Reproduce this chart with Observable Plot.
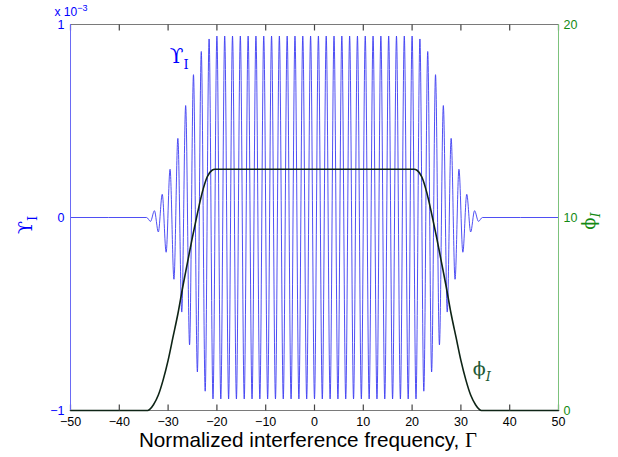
<!DOCTYPE html>
<html>
<head>
<meta charset="utf-8">
<script src="https://cdn.jsdelivr.net/npm/d3@7"></script>
<script src="https://cdn.jsdelivr.net/npm/@observablehq/plot@0.6"></script>
<style>
  html, body { margin: 0; padding: 0; background: #fff; }
  #chart { width: 618px; height: 457px; }
</style>
</head>
<body>
<div id="chart"></div>
<script>
// ---- data ----
// x-axis ticks (normalized interference frequency, Gamma)
const xTicks = [-50, -40, -30, -20, -10, 0, 10, 20, 30, 40, 50];
// left axis ticks (Upsilon_I, in units of 1e-3)
const leftTicks = [-1, 0, 1];
// right axis tick labels (phi_I)
const rightTickLabels = [0, 10, 20];

// Upsilon_I: flat ends plus the extrema of the oscillation (x 1e-3)
const upsX = [
  -50, -34.4,
  -33.6, -32.8, -32.0, -31.2, -30.4, -29.6, -28.8, -28.0, -27.2, -26.4,
  -25.6, -24.8, -24.0, -23.2, -22.4, -21.6, -20.8, -20.0, -19.2, -18.4,
  -17.6, -16.8, -16.0, -15.2, -14.4, -13.6, -12.8, -12.0, -11.2, -10.4,
  -9.6, -8.8, -8.0, -7.2, -6.4, -5.6, -4.8, -4.0, -3.2, -2.4, -1.6, -0.8,
  0,
  0.8, 1.6, 2.4, 3.2, 4.0, 4.8, 5.6, 6.4, 7.2, 8.0, 8.8, 9.6,
  10.4, 11.2, 12.0, 12.8, 13.6, 14.4, 15.2, 16.0, 16.8, 17.6,
  18.4, 19.2, 20.0, 20.8, 21.6, 22.4, 23.2, 24.0, 24.8, 25.6,
  26.4, 27.2, 28.0, 28.8, 29.6, 30.4, 31.2, 32.0, 32.8, 33.6,
  34.4, 50
];
const upsY = [
  0, 0,
  -0.02, 0.035, -0.075, 0.12, -0.18, 0.25, -0.32, 0.41, -0.49, 0.58,
  -0.66, 0.74, -0.80, 0.86, -0.90, 0.925, -0.94, 0.94, -0.94, 0.94,
  -0.94, 0.94, -0.94, 0.94, -0.94, 0.94, -0.94, 0.94, -0.94, 0.94,
  -0.94, 0.94, -0.94, 0.94, -0.94, 0.94, -0.94, 0.94, -0.94, 0.94, -0.94, 0.94,
  -0.94,
  0.94, -0.94, 0.94, -0.94, 0.94, -0.94, 0.94, -0.94, 0.94, -0.94, 0.94, -0.94,
  0.94, -0.94, 0.94, -0.94, 0.94, -0.94, 0.94, -0.94, 0.94, -0.94,
  0.94, -0.94, 0.94, -0.94, 0.925, -0.90, 0.86, -0.80, 0.74, -0.66,
  0.58, -0.49, 0.41, -0.32, 0.25, -0.18, 0.12, -0.075, 0.035, -0.02,
  0, 0
];

// phi_I (right axis, 0..20)
const phiX = [-50, -34.2, -33, -32, -31, -30, -29, -28, -27, -26, -25, -24, -23, -22, -21, -20.4,
              20.4, 21, 22, 23, 24, 25, 26, 27, 28, 29, 30, 31, 32, 33, 34.2, 50];
const phiV = [0, 0, 0.3, 0.8, 1.6, 2.6, 3.8, 5.0, 6.4, 7.7, 9.0, 10.2, 11.3, 12.1, 12.45, 12.5,
              12.5, 12.45, 12.1, 11.3, 10.2, 9.0, 7.7, 6.4, 5.0, 3.8, 2.6, 1.6, 0.8, 0.3, 0, 0];

// ---- build ----
const upsilon = upsX.map((x, i) => ({x, y: upsY[i]}));
const phi = phiX.map((x, i) => ({x, v: phiV[i]}));
const phiToY = v => v / 10 - 1;  // map right axis (0..20) onto left axis (-1..1)

const BLUE = "#0000ff";
const GREEN = "#138a13";
const font = "'Liberation Sans', Arial, Helvetica, sans-serif";
const serif = "'DejaVu Serif', 'Liberation Serif', 'Times New Roman', serif";
const intFmt = d3.format("d");

const W = 618, H = 457, mL = 70, mR = 60, mT = 24, mB = 47;
const innerH = H - mT - mB;
// tick length: 6 px expressed in y units
const tickLen = 6 * (leftTicks[2] - leftTicks[0]) / innerH;

const plot = Plot.plot({
  width: W,
  height: H,
  marginLeft: mL,
  marginRight: mR,
  marginTop: mT,
  marginBottom: mB,
  style: {fontFamily: font, fontSize: "12.5px", background: "white", overflow: "visible"},
  x: {domain: [-50, 50]},
  y: {domain: [-1, 1]},
  marks: [
    // frame (top / bottom)
    Plot.ruleY([-1, 1], {stroke: "#7a7a7a", strokeWidth: 1}),
    // oscillating Upsilon_I
    Plot.line(upsilon, {x: "x", y: "y", curve: "monotone-x", stroke: "#3b3bf2", strokeWidth: 0.9}),
    // phi_I
    Plot.line(phi, {x: "x", y: d => phiToY(d.v), curve: "monotone-x", stroke: "#0e2416", strokeWidth: 1.6}),
    // inward ticks along bottom and top edges
    Plot.link(xTicks, {x1: d => d, x2: d => d, y1: -1, y2: -1 + tickLen, stroke: "#444", strokeWidth: 1.2}),
    Plot.link(xTicks, {x1: d => d, x2: d => d, y1: 1, y2: 1 - tickLen, stroke: "#444", strokeWidth: 1.2}),
    // left / right axis lines
    Plot.ruleX([-50], {stroke: "#6a6af5", strokeWidth: 1}),
    Plot.ruleX([50], {stroke: "#7cc27c", strokeWidth: 1}),
    // axes labels
    Plot.axisX(xTicks, {anchor: "bottom", tickSize: 0, tickPadding: 7, fill: "black", label: null}),
    Plot.axisY(leftTicks, {anchor: "left", tickSize: 0, tickPadding: 6, fill: BLUE, label: null, tickFormat: intFmt}),
    Plot.axisY(rightTickLabels.map(phiToY), {anchor: "right", tickSize: 0, tickPadding: 5, fill: GREEN, label: null,
      tickFormat: (d, i) => String(rightTickLabels[i])})
  ]
});

document.getElementById("chart").appendChild(plot);

// ---- annotations (titles, labels with sub/superscripts) ----
const svg = d3.select(plot);
const sx = plot.scale("x"), sy = plot.scale("y");
const L = mL, R = W - mR, T = mT, B = H - mB;

// "x 10^-3" exponent marker
const ex = svg.append("text").attr("x", L + 1).attr("y", T - 8)
  .attr("fill", BLUE).attr("font-family", font).attr("font-size", 12);
ex.append("tspan").text("x 10");
ex.append("tspan").attr("dy", -5).attr("font-size", 9).text("\u22123");

// left axis label (rotated)
const yl = svg.append("text").attr("transform", `translate(${L - 38},${(T + B) / 2 + 8}) rotate(-90)`)
  .attr("fill", BLUE).attr("font-family", serif).attr("font-size", 19).attr("text-anchor", "middle");
yl.append("tspan").text("\u03D2");
yl.append("tspan").attr("font-size", 13).attr("dy", 5).text("I");

// right axis label (rotated)
const rl = svg.append("text").attr("transform", `translate(${R + 37},${(T + B) / 2 + 4}) rotate(-90)`)
  .attr("fill", GREEN).attr("font-family", serif).attr("font-size", 18).attr("text-anchor", "middle");
rl.append("tspan").text("\u03D5");
rl.append("tspan").attr("font-size", 13).attr("font-style", "italic").attr("dy", 5).text("I");

// in-plot label Upsilon_I
const ul = svg.append("text").attr("x", sx.apply(-27.6)).attr("y", sy.apply(0.8))
  .attr("fill", BLUE).attr("font-family", serif).attr("font-size", 20);
ul.append("tspan").text("\u03D2");
ul.append("tspan").attr("font-size", 13).attr("dy", 6).text("I");

// in-plot label phi_I
const pl = svg.append("text").attr("x", sx.apply(34.4)).attr("y", sy.apply(-0.82))
  .attr("fill", "#1f5a36").attr("font-family", serif).attr("font-size", 19);
pl.append("tspan").text("\u03D5");
pl.append("tspan").attr("font-size", 13).attr("font-style", "italic").attr("dy", 6).text("I");

// x-axis title
const xl = svg.append("text").attr("x", (L + R) / 2 - 6).attr("y", B + 37)
  .attr("fill", "black").attr("font-family", font).attr("font-size", 20.7).attr("text-anchor", "middle");
xl.append("tspan").text("Normalized interference frequency, ");
xl.append("tspan").attr("font-family", "'Liberation Serif', serif").text("\u0393");
</script>
</body>
</html>
